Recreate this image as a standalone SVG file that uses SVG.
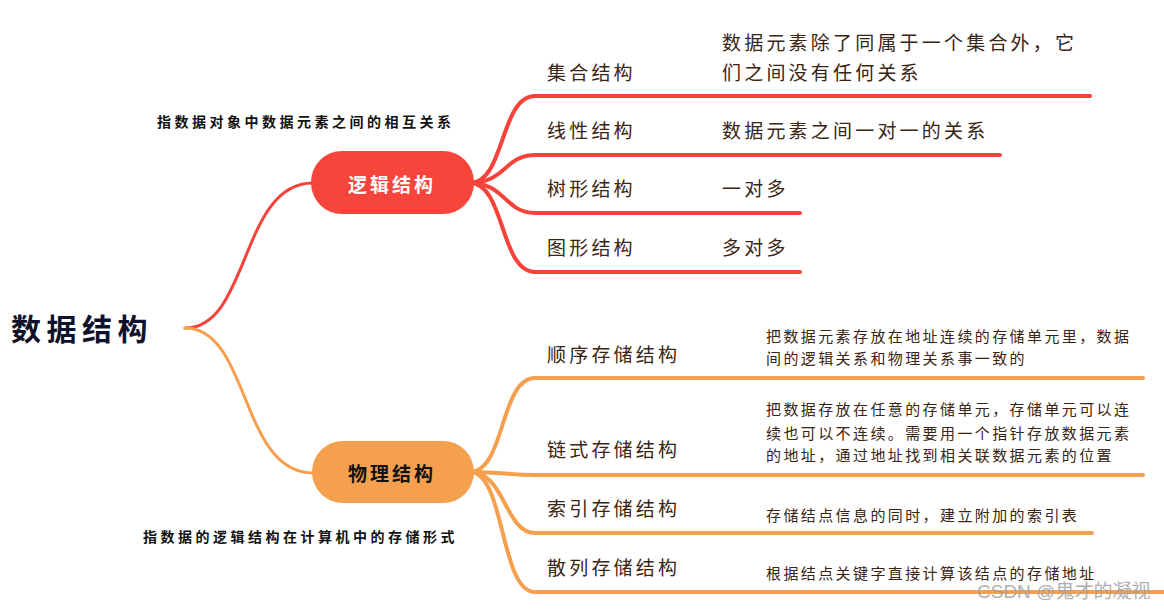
<svg xmlns="http://www.w3.org/2000/svg" width="1164" height="609" viewBox="0 0 1164 609">
<style>
text{font-family:"Noto Sans CJK SC","Noto Sans",sans-serif}
.root{font-size:30px;font-weight:bold;fill:#10122a;letter-spacing:5.5px}
.note{font-size:14px;font-weight:bold;fill:#111;letter-spacing:3.5px}
.lbl{font-size:19px;fill:#3a2412;letter-spacing:3.2px}
.big{font-size:19px;fill:#3a2412;letter-spacing:3.2px}
.sm{font-size:15px;fill:#3a2412;letter-spacing:2.4px}
.r{stroke:#f5433b;fill:none;stroke-linecap:round}
.o{stroke:#f5a04f;fill:none;stroke-linecap:round}
.wm{font-family:"Liberation Sans","Noto Sans CJK SC",sans-serif;font-size:19px;fill:#a0a0a0;fill-opacity:0.85}
</style>
<rect width="1164" height="609" fill="#fff"/>
<g id="connectors">
<path class="r" stroke-width="3" d="M185,328 C250,328 240,183 313,183"/>
<path class="o" stroke-width="3" d="M185,328 C250,328 240,473 313,473"/>
<g stroke-width="4">
<path class="r" d="M470,183 C505,183 500,96 535,96 L1090,96"/>
<path class="r" d="M470,183 C505,183 505,155 535,155 L1000,155"/>
<path class="r" d="M470,183 C505,183 505,213 535,213 L800,213"/>
<path class="r" d="M470,183 C505,183 500,272 535,272 L800,272"/>
<path class="o" d="M470,472 C505,472 500,378 535,378 L1143,378"/>
<path class="o" d="M470,472 C505,472 505,475 535,475 L1143,475"/>
<path class="o" d="M470,472 C505,472 505,533 535,533 L1092,533"/>
<path class="o" d="M470,472 C505,472 500,592 535,592 L1164,592"/>
</g>
</g>
<g id="root"><text class="root" x="11" y="340">数据结构</text></g>
<g id="logic">
<rect x="311" y="151" width="163" height="63" rx="31" fill="#f8453c"/>
<text x="392" y="192" text-anchor="middle" style="font-size:19px;font-weight:bold;fill:#fff;letter-spacing:3px">逻辑结构</text>
<text class="note" x="157" y="127">指数据对象中数据元素之间的相互关系</text>
</g>
<g id="physical">
<rect x="312" y="441" width="162" height="62" rx="31" fill="#f5a04f"/>
<text x="392" y="481" text-anchor="middle" style="font-size:19px;font-weight:bold;fill:#111;letter-spacing:3px">物理结构</text>
<text class="note" x="143" y="542">指数据的逻辑结构在计算机中的存储形式</text>
</g>
<g id="set"><text class="lbl" x="547" y="80">集合结构</text>
<text class="big" x="722" y="50">数据元素除了同属于一个集合外，它</text>
<text class="big" x="722" y="80">们之间没有任何关系</text></g>
<g id="linear"><text class="lbl" x="547" y="138">线性结构</text>
<text class="big" x="722" y="138">数据元素之间一对一的关系</text></g>
<g id="tree"><text class="lbl" x="547" y="196">树形结构</text>
<text class="big" x="722" y="196">一对多</text></g>
<g id="graph"><text class="lbl" x="547" y="255">图形结构</text>
<text class="big" x="722" y="255">多对多</text></g>
<g id="seq"><text class="lbl" x="547" y="362">顺序存储结构</text>
<text class="sm" x="766" y="342">把数据元素存放在地址连续的存储单元里，数据</text>
<text class="sm" x="766" y="364">间的逻辑关系和物理关系事一致的</text></g>
<g id="link"><text class="lbl" x="547" y="457">链式存储结构</text>
<text class="sm" x="766" y="415">把数据存放在任意的存储单元，存储单元可以连</text>
<text class="sm" x="766" y="439">续也可以不连续。需要用一个指针存放数据元素</text>
<text class="sm" x="766" y="461">的地址，通过地址找到相关联数据元素的位置</text></g>
<g id="index"><text class="lbl" x="547" y="516">索引存储结构</text>
<text class="sm" x="766" y="521">存储结点信息的同时，建立附加的索引表</text></g>
<g id="hash"><text class="lbl" x="547" y="575">散列存储结构</text>
<text class="sm" x="766" y="579">根据结点关键字直接计算该结点的存储地址</text></g>
<text class="wm" x="977" y="598">CSDN @鬼才的凝视</text>
</svg>
